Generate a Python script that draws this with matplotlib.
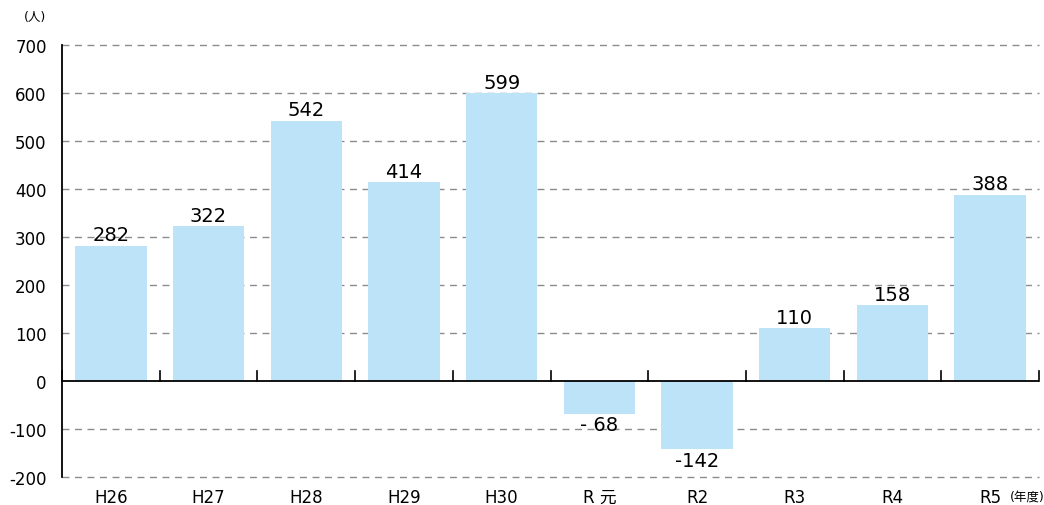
import matplotlib.pyplot as plt
import numpy as np

plt.rcParams['font.family'] = ['DejaVu Sans', 'Noto Sans CJK JP']

# data
categories = ["H26", "H27", "H28", "H29", "H30", "R 元", "R2", "R3", "R4", "R5"]
values = [282, 322, 542, 414, 599, -68, -142, 110, 158, 388]
value_labels = ["282", "322", "542", "414", "599", "- 68", "-142", "110", "158", "388"]
yticks = [-200, -100, 0, 100, 200, 300, 400, 500, 600, 700]

bar_color = "#BCE3F8"
grid_color = "#8c8c8c"

fig = plt.figure(figsize=(10.44, 5.06), dpi=100)
ax = fig.add_axes([62 / 1044, 28 / 506, 977 / 1044, 432 / 506])

x = np.arange(len(categories))
ax.bar(x, values, width=0.73, color=bar_color, zorder=3)

ax.set_xlim(-0.5, len(categories) - 0.5)
ax.set_ylim(-200, 700)

# dashed grid, except the zero line
for yv in yticks:
    if yv == 0:
        continue
    ax.axhline(yv, color=grid_color, lw=1.0, ls=(0, (5, 4)), zorder=1, clip_on=False)

# zero line with category separators
ax.axhline(0, color="black", lw=1.3, zorder=4)
for b in np.arange(len(categories) + 1) - 0.5:
    ax.plot([b, b], [0, 20], color="black", lw=1.2, zorder=4, clip_on=False)

for s in ["top", "right", "bottom"]:
    ax.spines[s].set_visible(False)
ax.spines["left"].set_linewidth(1.3)

ax.set_yticks(yticks)
ax.set_yticklabels([str(v) for v in yticks], fontsize=12)
ax.tick_params(axis="y", length=0, pad=11)
ax.set_xticks(x)
ax.set_xticklabels(categories, fontsize=12)
ax.tick_params(axis="x", length=0, pad=8)

for xi, v, lab in zip(x, values, value_labels):
    if v >= 0:
        ax.text(xi, v + 3, lab, ha="center", va="bottom", fontsize=14, zorder=5)
    else:
        ax.text(xi, v - 3, lab, ha="center", va="top", fontsize=14, zorder=5)

fig.text(35 / 1044, 1 - 18 / 506, "(人)", fontsize=9, ha="center", va="center")
fig.text(1027 / 1044, 1 - 497 / 506, "(年度)", fontsize=9, ha="center", va="center")

fig.savefig("out.png", dpi=100)
